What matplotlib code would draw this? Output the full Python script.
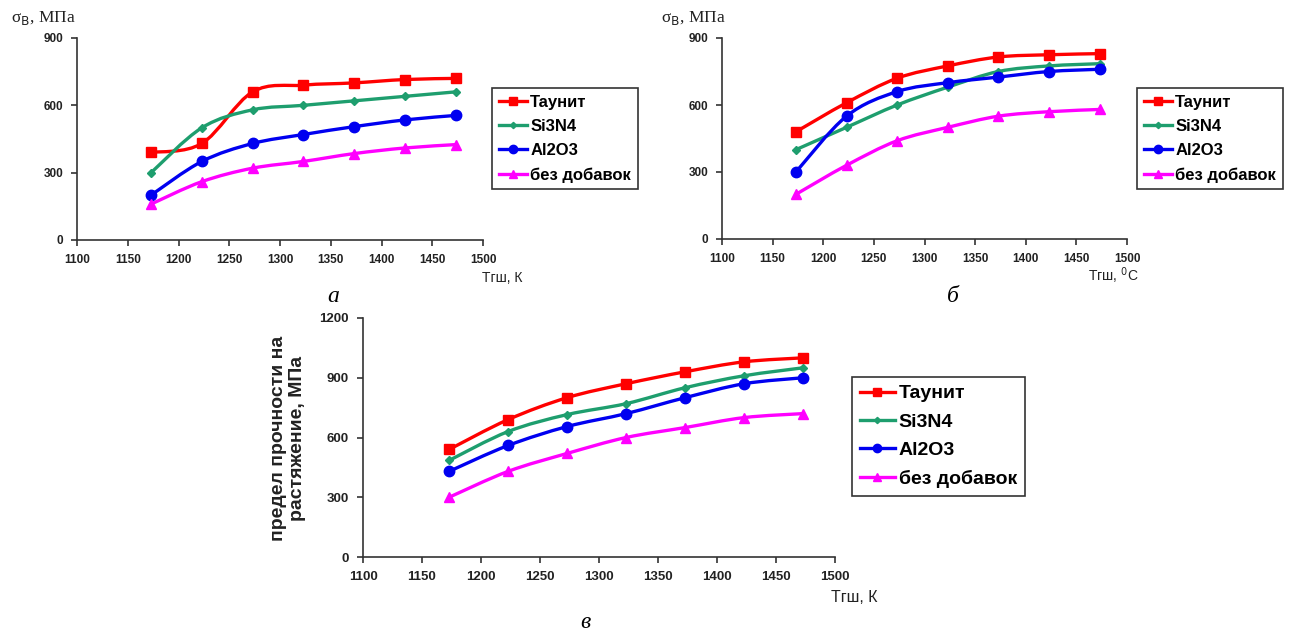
import matplotlib
matplotlib.use("Agg")
import matplotlib.pyplot as plt
import numpy as np
from matplotlib.path import Path
from matplotlib.patches import PathPatch
from matplotlib.lines import Line2D

# ---------------- data ----------------
temps = [1173, 1223, 1273, 1323, 1373, 1423, 1473]
series_names = ["Таунит", "Si3N4", "Al2O3", "без добавок"]

a_taunit = [390, 430, 660, 690, 700, 715, 720]
a_si3n4 = [300, 500, 580, 600, 620, 640, 660]
a_al2o3 = [200, 350, 430, 470, 505, 535, 555]
a_none = [160, 260, 320, 350, 385, 410, 425]

b_taunit = [480, 610, 720, 775, 815, 825, 830]
b_si3n4 = [400, 500, 600, 680, 750, 775, 785]
b_al2o3 = [300, 550, 660, 700, 725, 750, 760]
b_none = [200, 330, 440, 500, 550, 570, 580]

c_taunit = [540, 690, 800, 870, 930, 980, 1000]
c_si3n4 = [485, 630, 715, 770, 850, 910, 950]
c_al2o3 = [430, 560, 655, 720, 800, 870, 900]
c_none = [300, 430, 520, 600, 650, 700, 720]

x_ticks = [1100, 1150, 1200, 1250, 1300, 1350, 1400, 1450, 1500]
y_ticks_ab = [0, 300, 600, 900]
y_ticks_c = [0, 300, 600, 900, 1200]

# ---------------- style ----------------
colors = ["#FF0000", "#1E9E6E", "#0000F0", "#FF00FF"]
markers = ["s", "D", "o", "^"]
msizes = [7, 4, 7.5, 7.5]

W, H = 1290, 635
fig = plt.figure(figsize=(W / 100, H / 100), dpi=100)
SANS = "Liberation Sans"
SERIF = "Liberation Serif"


def px_axes(x0, y0, x1, y1):
    return fig.add_axes([x0 / W, 1 - y1 / H, (x1 - x0) / W, (y1 - y0) / H])


def smooth_path(xs, ys):
    xs = np.asarray(xs, float)
    ys = np.asarray(ys, float)
    n = len(xs)
    verts = [(xs[0], ys[0])]
    codes = [Path.MOVETO]
    for i in range(n - 1):
        i0 = max(i - 1, 0)
        i3 = min(i + 2, n - 1)
        c1 = (xs[i] + (xs[i + 1] - xs[i0]) / 6, ys[i] + (ys[i + 1] - ys[i0]) / 6)
        c2 = (xs[i + 1] - (xs[i3] - xs[i]) / 6, ys[i + 1] - (ys[i3] - ys[i]) / 6)
        verts += [c1, c2, (xs[i + 1], ys[i + 1])]
        codes += [Path.CURVE4] * 3
    return Path(verts, codes)


def draw_panel(ax, series, yticks, ymax, tick_fs):
    for vals, c, m, ms in zip(series, colors, markers, msizes):
        ax.add_patch(PathPatch(smooth_path(temps, vals), facecolor="none",
                               edgecolor=c, lw=2.4, zorder=2))
        ax.plot(temps, vals, linestyle="none", marker=m, ms=ms, color=c,
                zorder=3, clip_on=False)
    ax.set_xlim(1100, 1500)
    ax.set_ylim(0, ymax)
    ax.set_xticks(x_ticks)
    ax.set_yticks(yticks)
    for s in ["top", "right"]:
        ax.spines[s].set_visible(False)
    for s in ["left", "bottom"]:
        ax.spines[s].set_color("#333333")
        ax.spines[s].set_linewidth(1.2)
    ax.tick_params(direction="out", length=4, width=1.2, color="#333333",
                   labelsize=tick_fs, pad=6)
    for lab in ax.get_xticklabels() + ax.get_yticklabels():
        lab.set_fontfamily(SANS)
        lab.set_fontweight("bold")
        lab.set_color("#222222")
    ax.patch.set_alpha(0)


def add_legend(ax, x0, y0, fs, lspace, hlen):
    handles = [Line2D([0], [0], color=c, lw=2.4, marker=m, ms=ms * 0.8)
               for c, m, ms in zip(colors, markers, msizes)]
    leg = ax.legend(handles, series_names, loc="upper left",
                    bbox_to_anchor=(x0 / W, 1 - y0 / H),
                    bbox_transform=fig.transFigure,
                    prop={"family": SANS, "weight": "bold", "size": fs},
                    frameon=True, fancybox=False, handlelength=hlen,
                    handletextpad=0.2, labelspacing=lspace, borderpad=0.4,
                    borderaxespad=0)
    fr = leg.get_frame()
    fr.set_edgecolor("#333333")
    fr.set_linewidth(1.2)
    fr.set_alpha(1)


# panel a
ax_a = px_axes(77, 38, 483, 240)
draw_panel(ax_a, [a_taunit, a_si3n4, a_al2o3, a_none], y_ticks_ab, 900, 8.5)
add_legend(ax_a, 492, 88, 12, 0.55, 1.7)

# panel б
ax_b = px_axes(722, 38, 1127, 239)
draw_panel(ax_b, [b_taunit, b_si3n4, b_al2o3, b_none], y_ticks_ab, 900, 8.5)
add_legend(ax_b, 1137, 88, 12, 0.55, 1.7)

# panel в
ax_c = px_axes(363, 318, 835, 557)
draw_panel(ax_c, [c_taunit, c_si3n4, c_al2o3, c_none], y_ticks_c, 1200, 9.5)
add_legend(ax_c, 852, 377, 14, 0.55, 1.8)

# y labels
fig.text(11 / W, 1 - 18 / H, "σ$_{\\mathrm{B}}$, МПа", family=SERIF, fontsize=12.5,
         va="center", ha="left", color="#222222")
fig.text(661 / W, 1 - 18 / H, "σ$_{\\mathrm{B}}$, МПа", family=SERIF, fontsize=12.5,
         va="center", ha="left", color="#222222")
fig.text(288 / W, 1 - 438 / H, "предел прочности на\nрастяжение, МПа",
         family=SANS, fontweight="bold", fontsize=14, rotation=90,
         va="center", ha="center", ma="center", linespacing=1.15, color="#222222")

# x labels
fig.text(482 / W, 1 - 278 / H, "Tгш, К", family=SANS, fontsize=10,
         va="center", ha="left", color="#222222")
fig.text(1088 / W, 1 - 276 / H, "Tгш, $^{0}$C", family=SANS, fontsize=10,
         va="center", ha="left", color="#222222")
fig.text(831 / W, 1 - 598 / H, "Tгш, К", family=SANS, fontsize=11.5,
         va="center", ha="left", color="#222222")

# panel letters
fig.text(333 / W, 1 - 297 / H, "а", family=SERIF, style="italic", fontsize=17,
         va="center", ha="center")
fig.text(953 / W, 1 - 297 / H, "б", family=SERIF, style="italic", fontsize=17,
         va="center", ha="center")
fig.text(585 / W, 1 - 623 / H, "в", family=SERIF, style="italic", fontsize=17,
         va="center", ha="center")

fig.savefig("out.png", dpi=100)
